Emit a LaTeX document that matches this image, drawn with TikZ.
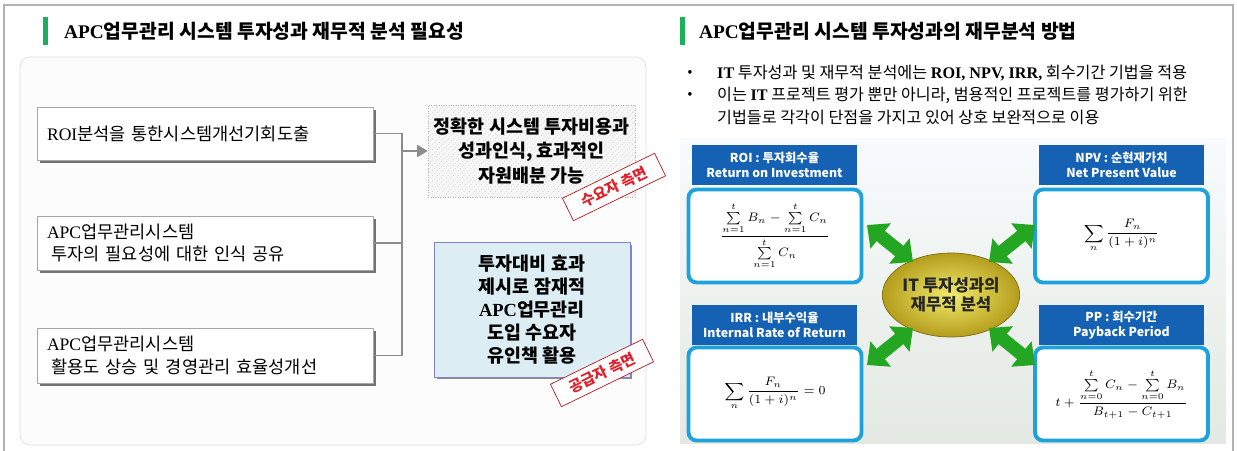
\documentclass[tikz,border=0pt]{standalone}
\usepackage{amsmath}
\usepackage{fontspec}
\setmainfont{Noto Sans CJK KR}
\newfontfamily\tmfont{Liberation Serif}
\newcommand{\tm}[1]{{\tmfont #1}}
\usetikzlibrary{arrows.meta,shapes.geometric,shadows,patterns}
\definecolor{hdgreen}{HTML}{1DB05A}
\definecolor{hdblue}{HTML}{1562B4}
\definecolor{frblue}{HTML}{1FA2DC}
\definecolor{lineg}{HTML}{8C8C8C}
\definecolor{boxblue}{HTML}{DCEEF4}
\definecolor{arrgreen}{HTML}{24A622}
\definecolor{stampred}{HTML}{E0202A}
\definecolor{coin}{HTML}{F2EC6E}
\definecolor{coinrim}{HTML}{B59D1C}
\definecolor{skytop}{HTML}{F8FBFD}
\definecolor{skymid}{HTML}{EBF4FA}
\definecolor{floor}{HTML}{E3E9E2}

\begin{document}
\begin{tikzpicture}[x=0.02cm,y=-0.02cm,
  leftbox/.style={draw=gray!70,fill=white,line width=0.5pt,text width=6.32cm,inner xsep=0.2cm,align=left,
    font=\fontsize{10}{13}\selectfont,
    drop shadow={shadow xshift=0.06cm,shadow yshift=-0.06cm,fill=black!55,opacity=1}},
  conn/.style={draw=lineg,line width=0.6pt},
  stampbox/.style={draw=stampred!80!black,fill=white,line width=0.4pt,text=stampred,
    font=\fontsize{8.5}{10}\selectfont\bfseries,rotate=26,minimum width=2.05cm,minimum height=0.5cm,inner sep=1pt},
  hdtext/.style={anchor=west,font=\fontsize{11}{13}\selectfont\bfseries},
  hdbar/.style={fill=hdgreen,minimum width=0.1cm,minimum height=0.56cm,inner sep=0pt},
  lbl/.style={fill=hdblue,text=white,font=\fontsize{7}{8.5}\selectfont\bfseries,
    minimum width=3.3cm,minimum height=0.8cm,align=center,inner sep=0pt},
  fbox/.style={draw=frblue,fill=white,line width=2.2pt,rounded corners=0.16cm,
    minimum width=3.46cm,minimum height=1.86cm,font=\fontsize{7}{8}\selectfont},
  garrow/.style={draw=arrgreen,line width=7.5pt,{Triangle[width=18pt,length=10pt]}-{Triangle[width=18pt,length=10pt]}},
  bul/.style={anchor=west,font=\fontsize{9.2}{11}\selectfont}
]
\useasboundingbox (0,0) rectangle (1237,450);
\draw[gray!60,line width=0.8pt] (4,452) -- (4,5) -- (1233,5) -- (1233,452);

\node[hdbar] (barL) at (45.5,31) {};
\node[hdtext] (ttlL) at (58,31) {\tm{APC}업무관리 시스템 투자성과 재무적 분석 필요성};
\node[hdbar] (barR) at (682.5,31) {};
\node[hdtext] (ttlR) at (693,31) {\tm{APC}업무관리 시스템 투자성과의 재무분석 방법};

\draw[draw=gray!25,fill=gray!2,rounded corners=0.2cm] (20,57) rectangle (646,445);

\node[leftbox,minimum height=1.06cm] (b1) at (205,133.5) {\tm{ROI}분석을 통한시스템개선기회도출};
\node[leftbox,minimum height=1.08cm] (b2) at (205,243) {\tm{APC}업무관리시스템\\\hspace*{0.25em}투자의 필요성에 대한 인식 공유};
\node[leftbox,minimum height=1.1cm] (b3) at (205,355.5) {\tm{APC}업무관리시스템\\\hspace*{0.25em}활용도 상승 및 경영관리 효율성개선};

\node[draw=gray!60,densely dotted,preaction={fill=gray!6},pattern=north east lines,pattern color=gray!35,
  minimum width=3.94cm,minimum height=1.84cm,align=center,font=\fontsize{10.5}{14}\selectfont\bfseries] (effA) at (531.5,151)
  {정확한 시스템 투자비용과\\성과인식, 효과적인\\자원배분 가능};
\node[draw=gray!60!blue!70,fill=boxblue,minimum width=3.92cm,minimum height=2.7cm,align=center,
  font=\fontsize{10.5}{13}\selectfont\bfseries,
  drop shadow={shadow xshift=0.05cm,shadow yshift=-0.05cm,fill=black!45,opacity=1}] (effB) at (532,309.5)
  {투자대비 효과\\제시로 잠재적\\\tm{APC}업무관리\\도입 수요자\\유인책 활용};

\coordinate (jn) at (402,151);
\draw[conn] (b1.east) -- (b1.east -| jn) -- (b3.east -| jn) -- (b3.east);
\draw[conn] (b2.east) -- (b2.east -| jn);
\draw[conn,-{Triangle[length=6pt,width=7pt]}] (jn) -- (effA);

\node[stampbox] (stA) at (614,187) {수요자 측면};
\node[stampbox] (stB) at (602,373) {공급자 측면};

\node (dot1) at (690,73) {\fontsize{8}{9}\selectfont •};
\node[bul] (t1) at (711,73) {\tm{\textbf{IT}} 투자성과 및 재무적 분석에는 \tm{\textbf{ROI, NPV, IRR,}} 회수기간 기법을 적용};
\node (dot2) at (690,95) {\fontsize{8}{9}\selectfont •};
\node[bul] (t2) at (711,95) {이는 \tm{\textbf{IT}} 프로젝트 평가 뿐만 아니라, 범용적인 프로젝트를 평가하기 위한};
\node[bul] (t3) at (711,117) {기법들로 각각이 단점을 가지고 있어 상호 보완적으로 이용};

\fill[top color=skytop,middle color=skymid,bottom color=floor] (680,138) rectangle (1226,443);

\node[lbl] (hROI) at (774.5,165) {ROI : 투자회수율\\Return on Investment};
\node[fbox] (fROI) at (775,236) {$\dfrac{\sum\limits_{n=1}^{t} B_n - \sum\limits_{n=1}^{t} C_n}{\sum\limits_{n=1}^{t} C_n}$};
\node[lbl] (hNPV) at (1121.5,165) {NPV : 순현재가치\\Net Present Value};
\node[fbox] (fNPV) at (1121.5,236) {$\displaystyle\sum_{n}\frac{F_n}{(1+i)^n}$};
\node[lbl] (hIRR) at (774.5,325) {IRR : 내부수익율\\Internal Rate of Return};
\node[fbox] (fIRR) at (775,394) {$\displaystyle\sum_{n}\frac{F_n}{(1+i)^n}=0$};
\node[lbl] (hPP) at (1121.5,325) {PP : 회수기간\\Payback Period};
\node[fbox] (fPP) at (1121.5,394) {$t+\dfrac{\sum\limits_{n=0}^{t} C_n - \sum\limits_{n=0}^{t} B_n}{B_{t+1}-C_{t+1}}$};

\node[ellipse,draw=coinrim!70!black,inner color=coin,outer color=coinrim,minimum width=2.16cm,minimum height=1.68cm,
  inner sep=0pt,align=center,font=\fontsize{9.5}{11}\selectfont\bfseries,text=black!85] (core) at (951,295) {IT 투자성과의\\재무적 분석};

\coordinate (g1a) at (867,225); \coordinate (g1b) at (913,262);
\coordinate (g2a) at (989,262); \coordinate (g2b) at (1035,225);
\coordinate (g3a) at (867,365); \coordinate (g3b) at (913,328);
\coordinate (g4a) at (989,328); \coordinate (g4b) at (1035,365);
\draw[garrow] (g1a) -- (g1b);
\draw[garrow] (g2a) -- (g2b);
\draw[garrow] (g3a) -- (g3b);
\draw[garrow] (g4a) -- (g4b);
\end{tikzpicture}
\end{document}
